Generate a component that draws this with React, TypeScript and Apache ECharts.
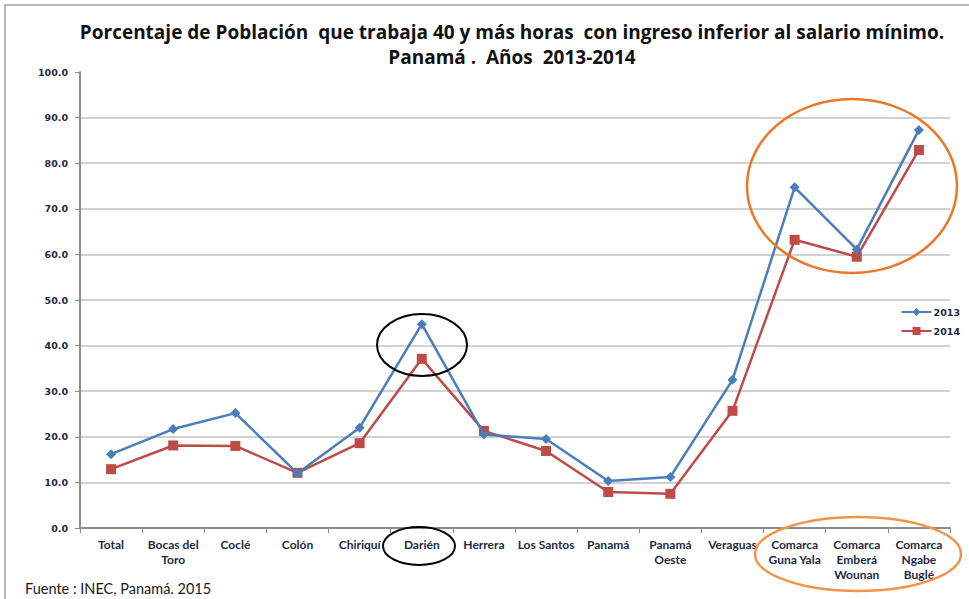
import React, { useEffect, useRef } from "react";
import * as echarts from "echarts";

const categories = [
  "Total", "Bocas del Toro", "Coclé", "Colón", "Chiriquí", "Darién", "Herrera",
  "Los Santos", "Panamá", "Panamá Oeste", "Veraguas", "Comarca Guna Yala",
  "Comarca Emberá Wounan", "Comarca Ngabe Buglé",
];
const tickLabels = [
  "Total", "Bocas del\nToro", "Coclé", "Colón", "Chiriquí", "Darién", "Herrera",
  "Los Santos", "Panamá", "Panamá\nOeste", "Veraguas", "Comarca\nGuna Yala",
  "Comarca\nEmberá\nWounan", "Comarca\nNgabe\nBuglé",
];
const values2013 = [16.2, 21.7, 25.2, 12.0, 22.0, 44.7, 20.5, 19.5, 10.3, 11.2, 32.5, 74.7, 61.1, 87.3];
const values2014 = [12.9, 18.1, 18.0, 12.1, 18.6, 37.1, 21.3, 16.9, 7.9, 7.5, 25.7, 63.2, 59.5, 82.9];
const seriesNames = ["2013", "2014"];

const TXT = "#1d2a44";

export default function App() {
  const ref = useRef<HTMLDivElement>(null);
  useEffect(() => {
    if (!ref.current) return;
    const chart = echarts.init(ref.current, undefined, { renderer: "svg" });
    chart.setOption({
      animation: false,
      backgroundColor: "#ffffff",
      title: {
        text: "Porcentaje de Población  que trabaja 40 y más horas  con ingreso inferior al salario mínimo.\nPanamá .  Años  2013-2014",
        left: 507,
        top: 14,
        textAlign: "center",
        textStyle: {
          fontFamily: "Open Sans",
          fontWeight: "bold",
          fontSize: 19,
          lineHeight: 25,
          color: "#111111",
        },
      },
      legend: {
        orient: "vertical",
        right: 4,
        top: 302,
        itemWidth: 30,
        itemHeight: 10,
        itemGap: 9,
        data: seriesNames,
        textStyle: { fontFamily: "DejaVu Sans", fontWeight: "bold", fontSize: 9.5, color: TXT, padding: [0, 0, 0, -3] },
      },
      grid: { left: 80, right: 19, top: 72, bottom: 71, containLabel: false },
      xAxis: {
        type: "category",
        data: categories,
        boundaryGap: true,
        axisLine: { lineStyle: { color: "#8c8c8c", width: 2 } },
        axisTick: { show: true, length: 5, lineStyle: { color: "#8c8c8c", width: 1 } },
        axisLabel: {
          formatter: (_v: string, i: number) => tickLabels[i],
          interval: 0,
          margin: 9,
          fontFamily: "Lato",
          fontWeight: "bold",
          fontSize: 12,
          lineHeight: 15,
          color: TXT,
        },
      },
      yAxis: {
        type: "value",
        min: 0,
        max: 100,
        interval: 10,
        axisLine: { show: true, lineStyle: { color: "#8c8c8c", width: 2 } },
        axisTick: { show: true, length: 5, lineStyle: { color: "#8c8c8c", width: 1 } },
        splitLine: { show: true, showMaxLine: false, lineStyle: { color: "#c2c2c2", width: 1.5 } },
        axisLabel: {
          formatter: (v: number) => v.toFixed(1),
          margin: 12,
          fontFamily: "DejaVu Sans",
          fontWeight: "bold",
          fontSize: 9.5,
          color: TXT,
        },
      },
      series: [
        {
          name: seriesNames[0],
          type: "line",
          data: values2013,
          symbol: "diamond",
          symbolSize: 10,
          lineStyle: { color: "#4a7ebb", width: 2.5 },
          itemStyle: { color: "#4a7ebb" },
          z: 3,
        },
        {
          name: seriesNames[1],
          type: "line",
          data: values2014,
          symbol: "rect",
          symbolSize: 10,
          lineStyle: { color: "#be4b48", width: 2.5 },
          itemStyle: { color: "#be4b48" },
          z: 2,
        },
      ],
      graphic: [
        {
          type: "rect",
          shape: { x: 5, y: 5, width: 980, height: 620 },
          style: { fill: "none", stroke: "#b8b8b8", lineWidth: 2 },
          silent: true,
          z: 0,
        },
        {
          type: "ellipse",
          shape: { cx: 422, cy: 345, rx: 45, ry: 31 },
          style: { fill: "none", stroke: "#000000", lineWidth: 2 },
          z: 10,
        },
        {
          type: "ellipse",
          shape: { cx: 419, cy: 546, rx: 36, ry: 19 },
          style: { fill: "none", stroke: "#000000", lineWidth: 2 },
          z: 10,
        },
        {
          type: "ellipse",
          shape: { cx: 852, cy: 186, rx: 105, ry: 87 },
          style: { fill: "none", stroke: "#e8782a", lineWidth: 2.5 },
          z: 10,
        },
        {
          type: "ellipse",
          shape: { cx: 858, cy: 554, rx: 103, ry: 37 },
          style: { fill: "none", stroke: "#f0954a", lineWidth: 2.5 },
          z: 10,
        },
        {
          type: "text",
          left: 25,
          top: 581,
          style: {
            text: "Fuente : INEC, Panamá. 2015",
            fontFamily: "Lato",
            fontSize: 14.5,
            fill: "#1a1a1a",
          },
        },
      ],
    });
    return () => chart.dispose();
  }, []);
  return (
    <div
      ref={ref}
      style={{ position: "fixed", left: 0, top: 0, width: 969, height: 599 }}
    />
  );
}
